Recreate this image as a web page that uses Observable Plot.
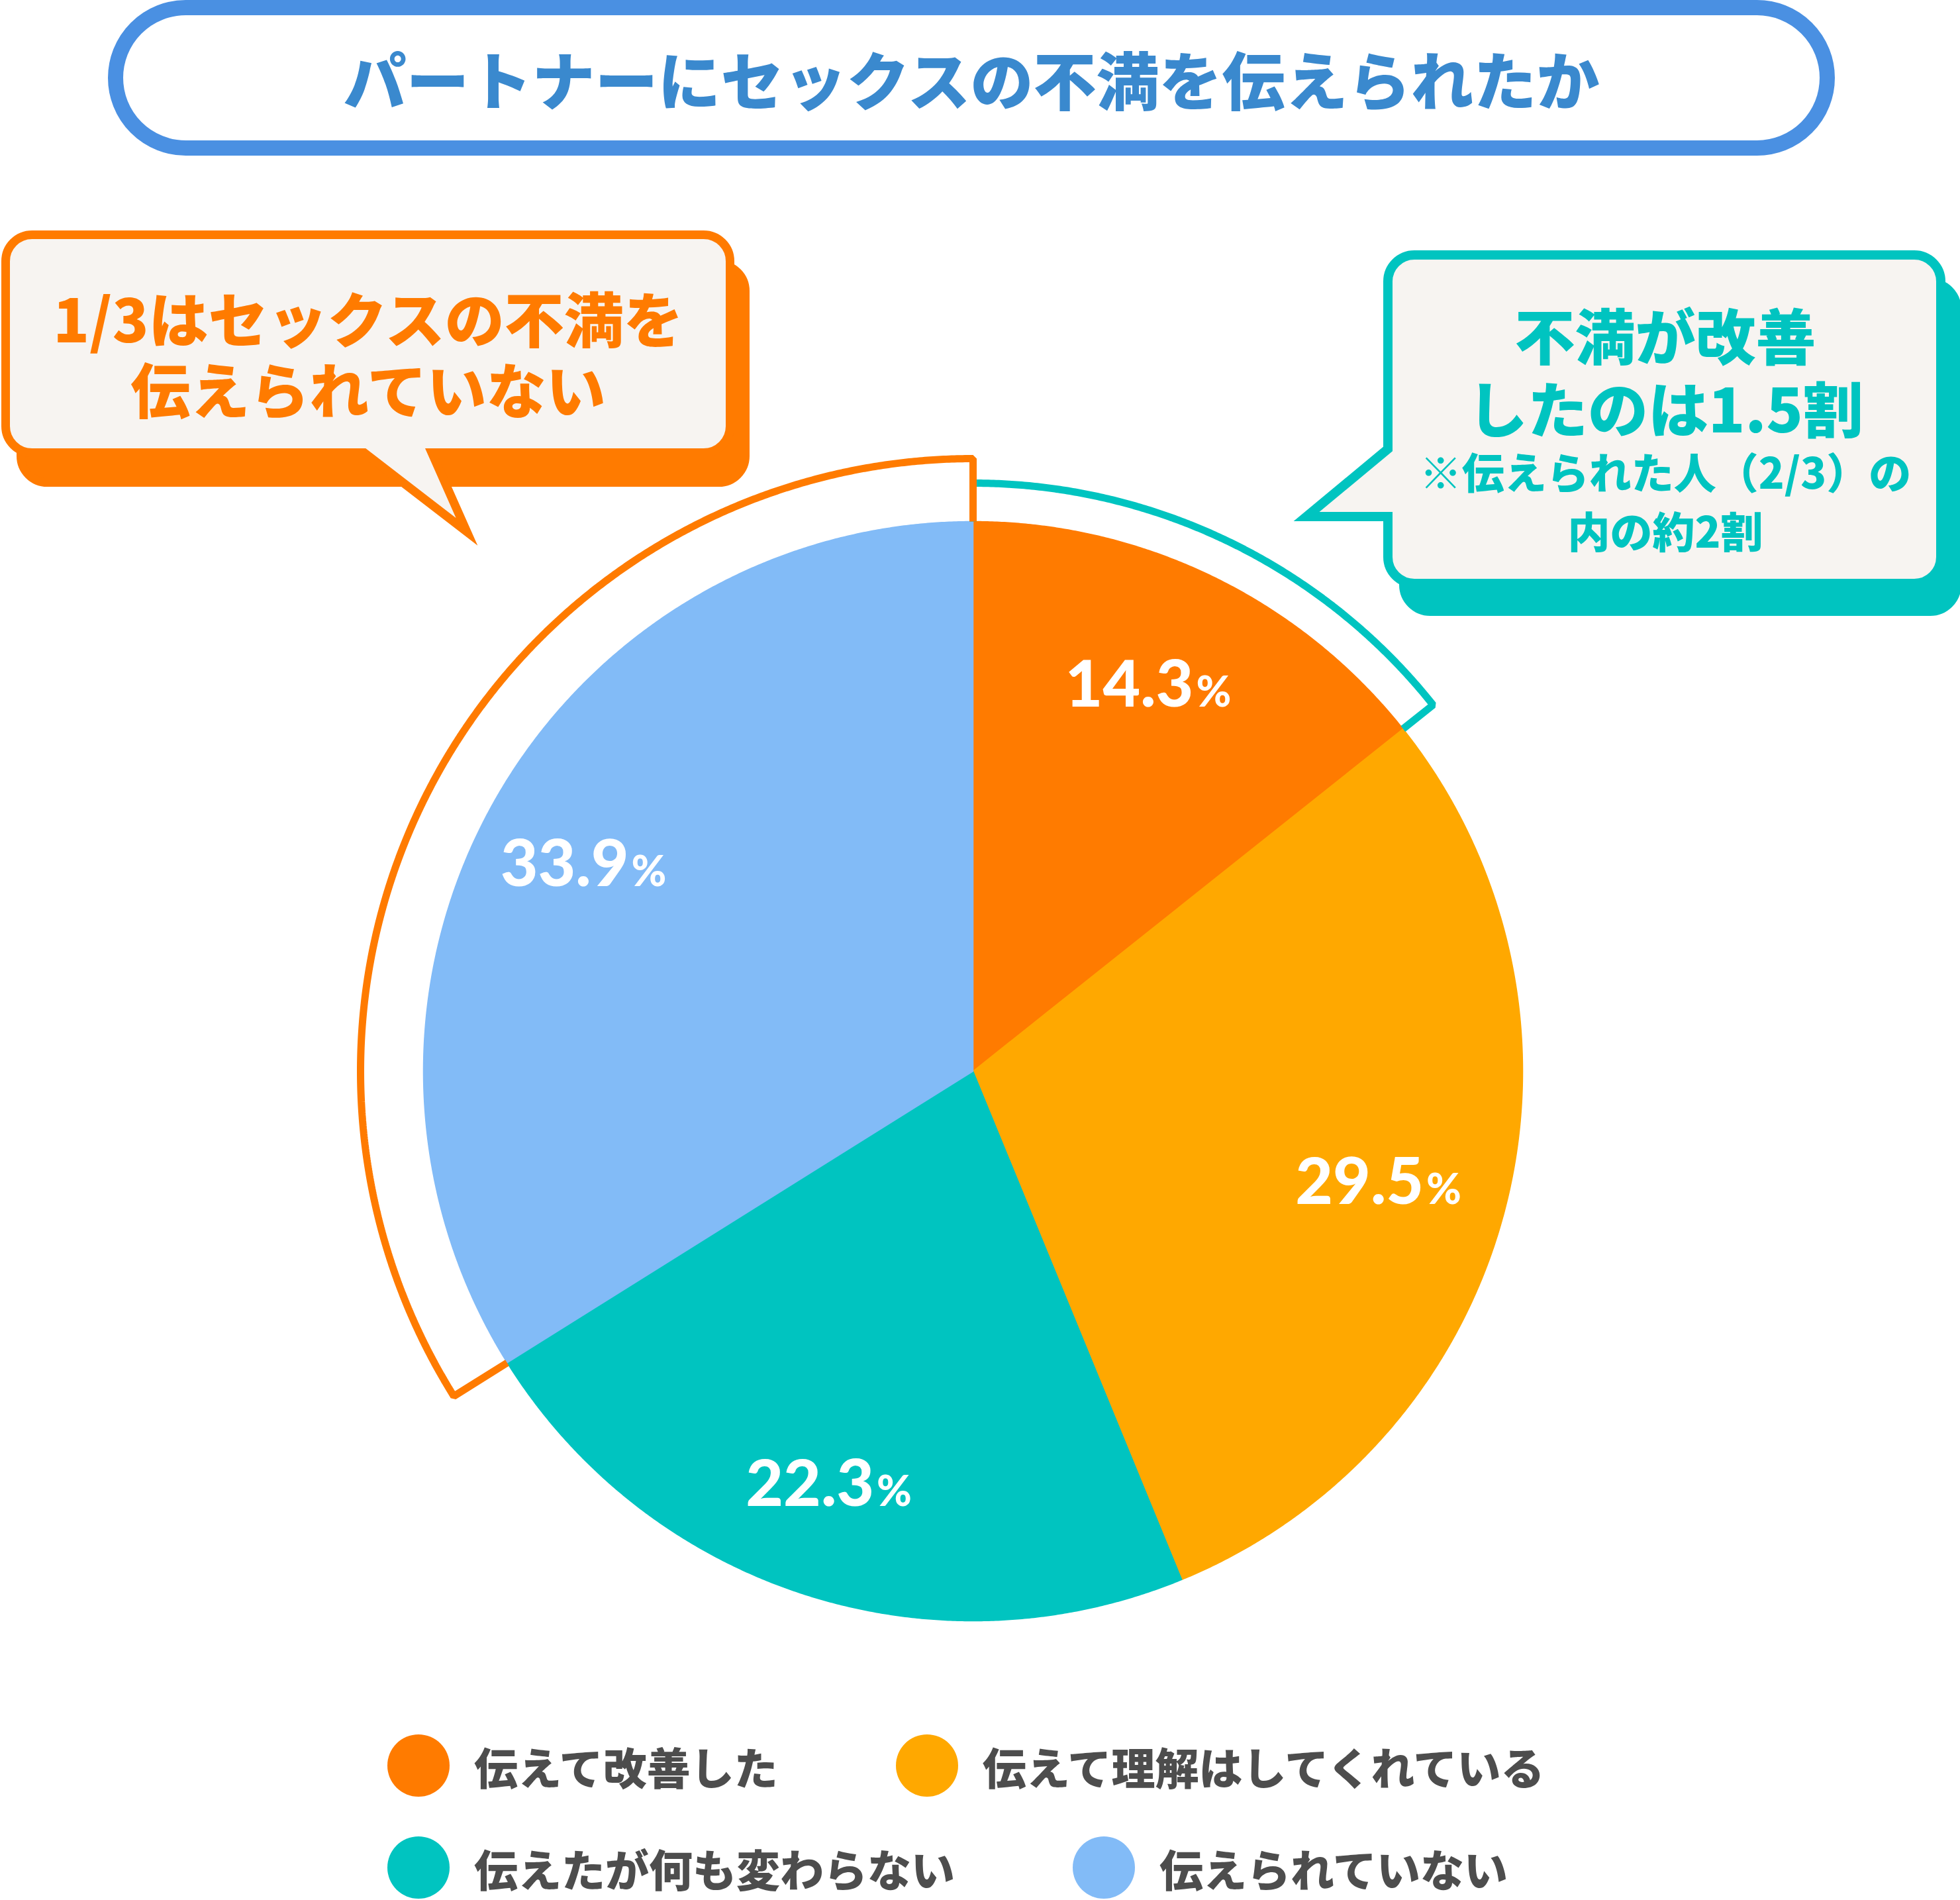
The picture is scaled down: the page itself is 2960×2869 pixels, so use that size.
<!DOCTYPE html>
<html><head><meta charset="utf-8">
<script src="https://cdn.jsdelivr.net/npm/d3@7"></script>
<script src="https://cdn.jsdelivr.net/npm/@observablehq/plot@0.6"></script>
<style>
html,body{margin:0;padding:0;background:#fff;}
#wrap{position:relative;width:2960px;height:2869px;overflow:hidden;background:#fff;}
#wrap svg{position:absolute;left:0;top:0;}
.legend{position:absolute;left:585px;display:flex;align-items:center;height:94px;font-family:"Noto Sans CJK JP",sans-serif;font-weight:900;font-size:66px;color:#4D4D4D;}
.item{display:flex;align-items:center;margin-right:178px;white-space:nowrap;}
.sw{width:94px;height:94px;border-radius:50%;margin-right:37px;flex:none;}
</style></head><body><div id="wrap"></div>
<script>
// ---- data ----
const categories = ["伝えて改善した","伝えて理解はしてくれている","伝えたが何も変わらない","伝えられていない"];
const values = [14.3, 29.5, 22.3, 33.9];
const colors = ["#FF7B00","#FFA800","#00C4C0","#82BBF7"];
const titleText = "パートナーにセックスの不満を伝えられたか";
const leftNote = ["1/3はセックスの不満を","伝えられていない"];
const rightNote = ["不満が改善","したのは1.5割"];
const rightSubNote = ["※伝えられた人（2/3）の","内の約2割"];
const legendRows = [[0,1],[2,3]];

// ---- layout ----
const W = 2960, H = 2869;
const cx = 1469, cy = 1617, R = 830, RL = 925, RT = 888;
const CJK = "'Noto Sans CJK JP', sans-serif";

const table = categories.map((c, i) => ({cat: c, value: values[i]}));
const arcs = d3.pie().sort(null).value(d => d.value)(table);
const pt = (a, r) => ({x: cx + r * Math.sin(a), y: cy - r * Math.cos(a)});
function arcPts(a0, a1, r) {
  const n = Math.max(2, Math.ceil(Math.abs(a1 - a0) / (Math.PI / 720)));
  return d3.range(n + 1).map(i => pt(a0 + (a1 - a0) * i / n, r));
}
const slicePts = arcs.flatMap(p => [pt(0, 0), ...arcPts(p.startAngle, p.endAngle, R)].map(q => ({...q, cat: p.data.cat})));

const improved = arcs[0], notTold = arcs[3];
const tealBracket = [pt(improved.startAngle, R), ...arcPts(improved.startAngle, improved.endAngle, RT), pt(improved.endAngle, R)];
const orangeBracket = [pt(notTold.endAngle, R), ...arcPts(notTold.endAngle, notTold.startAngle, RL), pt(notTold.startAngle, R)];

const labels = arcs.map(p => ({...pt((p.startAngle + p.endAngle) / 2, 0.785 * R), num: d3.format(".1f")(p.data.value)}));

const chart = Plot.plot({
  width: W, height: H, margin: 0,
  x: {domain: [0, W], range: [0, W], axis: null},
  y: {domain: [0, H], range: [0, H], axis: null},
  color: {domain: categories, range: colors},
  style: {background: "transparent"},
  marks: [
    Plot.line(slicePts, {x: "x", y: "y", z: "cat", fill: "cat", stroke: "cat", strokeWidth: 1.5, curve: "linear-closed"}),
    Plot.line(tealBracket, {x: "x", y: "y", stroke: colors[2], strokeWidth: 11, strokeLinejoin: "miter", strokeLinecap: "butt"}),
    Plot.line(orangeBracket, {x: "x", y: "y", stroke: colors[0], strokeWidth: 11, strokeLinejoin: "miter", strokeLinecap: "butt"}),
    Plot.text(labels, {x: "x", y: "y", text: "num", textAnchor: "end", lineAnchor: "bottom", dx: 50, dy: 36, fill: "white", fontSize: 98, fontWeight: 900, fontFamily: "Lato"}),
    Plot.text(labels, {x: "x", y: "y", text: () => "%", textAnchor: "start", lineAnchor: "bottom", dx: 54, dy: 36, fill: "white", fontSize: 64, fontWeight: 900, fontFamily: "Lato"})
  ]
});
const wrap = document.getElementById("wrap");
wrap.appendChild(chart);

// ---- overlay: title + callouts ----
const ov = d3.select(wrap).append("svg").attr("width", W).attr("height", H).style("pointer-events", "none");

// title pill
ov.append("rect").attr("x", 174.5).attr("y", 11.5).attr("width", 2759.5 - 174.5).attr("height", 212).attr("rx", 106)
  .attr("fill", "#fff").attr("stroke", "#4A90E2").attr("stroke-width", 23);
ov.append("text").attr("x", 1467).attr("y", 117).attr("text-anchor", "middle").attr("dominant-baseline", "central")
  .attr("font-family", CJK).attr("font-weight", 900).attr("font-size", 95).attr("fill", "#3A89CE").text(titleText);

function boxPath(x0, y0, x1, y1, r, tail) {
  const p = d3.path();
  p.moveTo(x0 + r, y0);
  p.lineTo(x1 - r, y0); p.arcTo(x1, y0, x1, y0 + r, r);
  p.lineTo(x1, y1 - r); p.arcTo(x1, y1, x1 - r, y1, r);
  if (tail && tail.side === "bottom") { p.lineTo(tail.b, y1); p.lineTo(tail.tx, tail.ty); p.lineTo(tail.a, y1); }
  p.lineTo(x0 + r, y1); p.arcTo(x0, y1, x0, y1 - r, r);
  if (tail && tail.side === "left") { p.lineTo(x0, tail.b); p.lineTo(tail.tx, tail.ty); p.lineTo(x0, tail.a); }
  p.lineTo(x0, y0 + r); p.arcTo(x0, y0, x0 + r, y0, r);
  p.closePath();
  return p.toString();
}
function callout(b, color, sw, shadow, tail) {
  ov.append("path").attr("d", boxPath(b[0] + shadow[0], b[1] + shadow[1], b[2] + shadow[0], b[3] + shadow[1], 40))
    .attr("fill", color).attr("stroke", color).attr("stroke-width", sw);
  ov.append("path").attr("d", boxPath(b[0], b[1], b[2], b[3], 40, tail))
    .attr("fill", "#F7F4F1").attr("stroke", color).attr("stroke-width", sw)
    .attr("stroke-linejoin", "miter").attr("stroke-miterlimit", 10);
}
callout([8.5, 354.5, 1102.5, 683.5], colors[0], 13, [23, 45], {side: "bottom", a: 550, b: 652, tx: 705, ty: 803});
callout([2096, 385, 2931, 881], colors[2], 14, [24, 42], {side: "left", a: 678, b: 780, tx: 1973, ty: 780});

function lines(arr, x, ys, size, color) {
  arr.forEach((t, i) => ov.append("text").attr("x", x).attr("y", ys[i]).attr("text-anchor", "middle")
    .attr("dominant-baseline", "central").attr("font-family", CJK).attr("font-weight", 900)
    .attr("font-size", size).attr("fill", color).text(t));
}
lines(leftNote, 556, [478, 585], 90, colors[0]);
lines(rightNote, 2515, [503, 613], 91, colors[2]);
lines(rightSubNote, 2515, [710, 799], 64, colors[2]);

// ---- legend ----
legendRows.forEach((row, ri) => {
  const div = document.createElement("div");
  div.className = "legend";
  div.style.top = (ri === 0 ? 2666 - 47 : 2820 - 47) + "px";
  row.forEach(i => {
    const it = document.createElement("div"); it.className = "item";
    const sw = document.createElement("span"); sw.className = "sw"; sw.style.background = colors[i];
    const tx = document.createElement("span"); tx.textContent = categories[i];
    it.appendChild(sw); it.appendChild(tx); div.appendChild(it);
  });
  wrap.appendChild(div);
});
</script></body></html>
